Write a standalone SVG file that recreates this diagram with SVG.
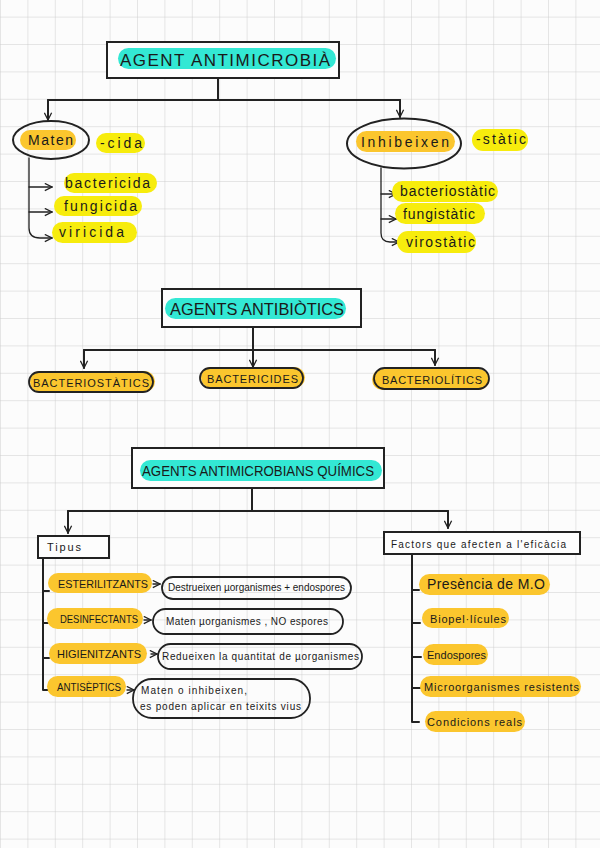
<svg xmlns="http://www.w3.org/2000/svg" width="600" height="848" viewBox="0 0 600 848">
<defs>
<pattern id="grid" width="27.4" height="27.4" patternUnits="userSpaceOnUse" x="0" y="16.6">
<path d="M0,0 H27.4 M0,0 V27.4" fill="none" stroke="#cdcdcd" stroke-width="1"/>
</pattern>
<marker id="arr" viewBox="0 0 10 10" refX="9" refY="5" markerWidth="9" markerHeight="9" markerUnits="userSpaceOnUse" orient="auto">
<path d="M1,1 L9,5 L1,9" fill="none" stroke="#222" stroke-width="1.4"/>
</marker>
</defs>
<style>
.ln{fill:none;stroke:#222;stroke-width:2;stroke-linecap:round;stroke-linejoin:round}
.thin{fill:none;stroke:#222;stroke-width:1.3;stroke-linecap:round}
.box{fill:#fdfdfd;stroke:#222;stroke-width:2}
.teal{fill:#33e8d4}
.org{fill:#fbc62e}
.yel{fill:#f7ec0d}
.out{fill:none;stroke:#222;stroke-width:1.8}
text{font-family:"Liberation Sans","DejaVu Sans",sans-serif;fill:#1a1a1a}
.ttl{font-size:17px}
.lbl{font-size:14px}
.cap{font-size:11px}
.sm{font-size:10px}
</style>
<rect width="600" height="848" fill="#fcfcfc"/>
<rect width="600" height="848" fill="url(#grid)"/>

<g id="connectors">
<path class="ln" d="M218,78 V100 M48,100 H400"/>
<path class="ln" d="M48,100 V120" marker-end="url(#arr)"/>
<path class="ln" d="M400,100 V117" marker-end="url(#arr)"/>
<path class="thin" d="M29,158 V228 Q29,238 40,238 H52" marker-end="url(#arr)"/>
<path class="thin" d="M29,187 H52" marker-end="url(#arr)"/>
<path class="thin" d="M29,212 H52" marker-end="url(#arr)"/>
<path class="thin" d="M381,168 V233 Q381,242 390,242 H399" marker-end="url(#arr)"/>
<path class="thin" d="M381,194 H396" marker-end="url(#arr)"/>
<path class="thin" d="M381,219 H396" marker-end="url(#arr)"/>
<path class="ln" d="M253,327 V350 M84,350 H435"/>
<path class="ln" d="M84,350 V368" marker-end="url(#arr)"/>
<path class="ln" d="M253,350 V367" marker-end="url(#arr)"/>
<path class="ln" d="M435,350 V365" marker-end="url(#arr)"/>
<path class="ln" d="M252,488 V511 M68,511 H448"/>
<path class="ln" d="M68,511 V533" marker-end="url(#arr)"/>
<path class="ln" d="M448,511 V528" marker-end="url(#arr)"/>
<path class="ln" d="M43,558 V690 H50 M43,591 H49 M43,623 H48 M43,658 H49"/>
<path class="ln" d="M412,554 V722 H419 M412,590 H419 M412,623 H420 M412,657 H421 M412,688 H420"/>
<path class="thin" d="M153,584 H160" marker-end="url(#arr)"/>
<path class="thin" d="M144,620 H151" marker-end="url(#arr)"/>
<path class="thin" d="M151,654 H157" marker-end="url(#arr)"/>
<path class="thin" d="M127,690 H134" marker-end="url(#arr)"/>
</g>

<g id="title1">
<rect class="box" x="107" y="42" width="232" height="36"/>
<rect class="teal" x="118" y="48" width="218" height="21" rx="10.5"/>
<text class="ttl" x="120" y="66" font-size="16" textLength="210" lengthAdjust="spacing">AGENT ANTIMICROBIÀ</text>
</g>

<g id="maten">
<ellipse cx="51" cy="140" rx="38" ry="19" fill="none" stroke="#222" stroke-width="2"/>
<rect class="org" x="20" y="130" width="56" height="20" rx="10"/>
<text class="lbl" x="28" y="145" textLength="45" lengthAdjust="spacing">Maten</text>
</g>
<g id="cida">
<rect class="yel" x="96" y="133" width="49" height="20" rx="10"/>
<text class="lbl" x="100" y="148" textLength="42" lengthAdjust="spacing">-cida</text>
</g>
<g id="bactericida">
<rect class="yel" x="64" y="173" width="93" height="20" rx="10"/>
<text class="lbl" x="65" y="188" textLength="85" lengthAdjust="spacing">bactericida</text>
</g>
<g id="fungicida">
<rect class="yel" x="54" y="196" width="88" height="20" rx="10"/>
<text class="lbl" x="64" y="211" textLength="73" lengthAdjust="spacing">fungicida</text>
</g>
<g id="viricida">
<rect class="yel" x="52" y="222" width="85" height="21" rx="10.5"/>
<text class="lbl" x="59" y="237" textLength="65" lengthAdjust="spacing">viricida</text>
</g>

<g id="inhibeixen">
<ellipse cx="404" cy="143.5" rx="57" ry="25" fill="none" stroke="#222" stroke-width="2"/>
<rect class="org" x="356" y="131" width="99" height="21" rx="10.5"/>
<text class="lbl" x="361" y="147" textLength="88" lengthAdjust="spacing">Inhibeixen</text>
</g>
<g id="static">
<rect class="yel" x="472" y="129" width="56" height="22" rx="11"/>
<text class="lbl" x="476" y="144" textLength="50" lengthAdjust="spacing">-stàtic</text>
</g>
<g id="bacteriostatic">
<rect class="yel" x="392" y="181" width="106" height="21" rx="10.5"/>
<text class="lbl" x="400" y="196" textLength="95" lengthAdjust="spacing">bacteriostàtic</text>
</g>
<g id="fungistatic">
<rect class="yel" x="395" y="203" width="90" height="21" rx="10.5"/>
<text class="lbl" x="403" y="219" textLength="72" lengthAdjust="spacing">fungistàtic</text>
</g>
<g id="virostatic">
<rect class="yel" x="397" y="231" width="79" height="22" rx="11"/>
<text class="lbl" x="406" y="247" textLength="69" lengthAdjust="spacing">virostàtic</text>
</g>

<g id="title2">
<rect class="box" x="162" y="289" width="199" height="38"/>
<rect class="teal" x="165" y="298" width="181" height="21" rx="10.5"/>
<text class="ttl" x="170" y="315" font-size="14.5" textLength="174" lengthAdjust="spacingAndGlyphs">AGENTS ANTIBIÒTICS</text>
</g>
<g id="bacteriostatics">
<rect class="org" x="30" y="371" width="125" height="21" rx="10.5"/>
<rect class="out" x="29" y="372" width="124" height="20" rx="10"/>
<text class="cap" x="33" y="387" textLength="116" lengthAdjust="spacing">BACTERIOSTÀTICS</text>
</g>
<g id="bactericides">
<rect class="org" x="201" y="367" width="104" height="21" rx="10.5"/>
<rect class="out" x="200" y="368" width="103" height="20" rx="10"/>
<text class="cap" x="207" y="383" textLength="91" lengthAdjust="spacing">BACTERICIDES</text>
</g>
<g id="bacteriolitics">
<rect class="org" x="372" y="369" width="117" height="21" rx="10.5"/>
<rect class="out" x="374" y="368" width="115" height="21" rx="10.5"/>
<text class="cap" x="382" y="384" textLength="100" lengthAdjust="spacing">BACTERIOLÍTICS</text>
</g>

<g id="title3">
<rect class="box" x="132" y="448" width="252" height="40"/>
<rect class="teal" x="140" y="460" width="242" height="21" rx="10.5"/>
<text class="lbl" x="142" y="476" font-size="12" textLength="232" lengthAdjust="spacingAndGlyphs">AGENTS ANTIMICROBIANS QUÍMICS</text>
</g>

<g id="tipus">
<rect class="box" x="38" y="536" width="71" height="22" stroke-width="1.8"/>
<text class="cap" x="47" y="551" textLength="34" lengthAdjust="spacing">Tipus</text>
</g>
<g id="esterilitzants">
<rect class="org" x="48" y="573" width="104" height="20" rx="10"/>
<text class="cap" x="58" y="588" font-size="10" textLength="90" lengthAdjust="spacingAndGlyphs">ESTERILITZANTS</text>
</g>
<g id="desc-esterilitzants">
<rect class="out" x="162" y="577" width="189" height="22" rx="11"/>
<text class="sm" x="168" y="591" textLength="177" lengthAdjust="spacing">Destrueixen µorganismes + endospores</text>
</g>
<g id="desinfectants">
<rect class="org" x="47" y="608" width="96" height="21" rx="10.5"/>
<text class="cap" x="60" y="623" font-size="9.5" textLength="78" lengthAdjust="spacingAndGlyphs">DESINFECTANTS</text>
</g>
<g id="desc-desinfectants">
<rect class="out" x="153" y="609" width="190" height="25" rx="12.5"/>
<text class="sm" x="166" y="625" textLength="162" lengthAdjust="spacing">Maten µorganismes , NO espores</text>
</g>
<g id="higienitzants">
<rect class="org" x="49" y="643" width="98" height="21" rx="10.5"/>
<text class="cap" x="57" y="658" font-size="10" textLength="84" lengthAdjust="spacingAndGlyphs">HIGIENITZANTS</text>
</g>
<g id="desc-higienitzants">
<rect class="out" x="158" y="644" width="204" height="25" rx="12.5"/>
<text class="sm" x="162" y="660" textLength="197" lengthAdjust="spacing">Redueixen la quantitat de µorganismes</text>
</g>
<g id="antiseptics">
<rect class="org" x="47" y="676" width="79" height="21" rx="10.5"/>
<text class="sm" x="57" y="691" font-size="9" textLength="64" lengthAdjust="spacingAndGlyphs">ANTISÈPTICS</text>
</g>
<g id="desc-antiseptics">
<rect class="out" x="133" y="679" width="177" height="39" rx="19"/>
<text class="sm" x="141" y="694" textLength="106" lengthAdjust="spacing">Maten o inhibeixen,</text>
<text class="sm" x="140" y="710" textLength="161" lengthAdjust="spacing">es poden aplicar en teixits vius</text>
</g>

<g id="factors">
<rect class="box" x="384" y="532" width="196" height="22" stroke-width="1.8"/>
<text class="sm" x="391" y="548" textLength="175" lengthAdjust="spacing">Factors que afecten a l'eficàcia</text>
</g>
<g id="presencia">
<rect class="org" x="419" y="574" width="131" height="21" rx="10.5"/>
<text class="lbl" x="427" y="589" font-size="12" textLength="118" lengthAdjust="spacing">Presència de M.O</text>
</g>
<g id="biopellicules">
<rect class="org" x="422" y="608" width="87" height="20" rx="10"/>
<text class="cap" x="430" y="623" textLength="76" lengthAdjust="spacing">Biopel·lícules</text>
</g>
<g id="endospores">
<rect class="org" x="423" y="644" width="65" height="21" rx="10.5"/>
<text class="cap" x="427" y="659" textLength="59" lengthAdjust="spacing">Endospores</text>
</g>
<g id="microorganismes">
<rect class="org" x="420" y="676" width="161" height="21" rx="10.5"/>
<text class="cap" x="424" y="691" textLength="155" lengthAdjust="spacing">Microorganismes resistents</text>
</g>
<g id="condicions">
<rect class="org" x="425" y="711" width="100" height="21" rx="10.5"/>
<text class="cap" x="427" y="726" textLength="95" lengthAdjust="spacing">Condicions reals</text>
</g>
</svg>
